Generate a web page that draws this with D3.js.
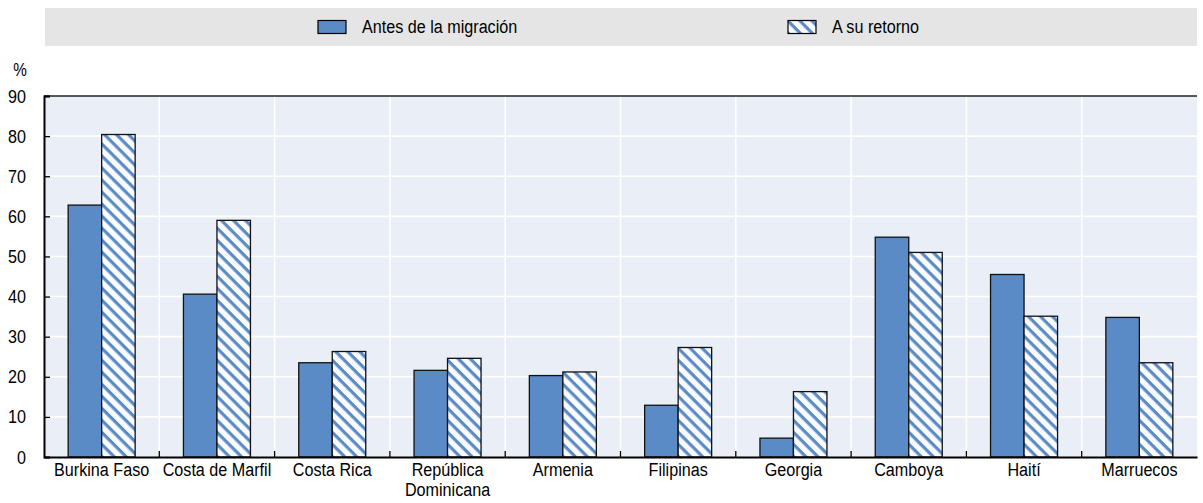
<!DOCTYPE html>
<html>
<head>
<meta charset="utf-8">
<script src="https://cdn.jsdelivr.net/npm/d3@7"></script>
<style>
  body { margin: 0; background: #fff; }
  text { font-family: "Liberation Sans", Arial, sans-serif; fill: #000; }
</style>
</head>
<body>
<script>
var categories = ["Burkina Faso", "Costa de Marfil", "Costa Rica", "República Dominicana", "Armenia",
                  "Filipinas", "Georgia", "Camboya", "Haití", "Marruecos"];
var antes = [62.8, 40.6, 23.5, 21.6, 20.3, 12.9, 4.7, 54.8, 45.5, 34.8];
var retorno = [80.4, 59.0, 26.3, 24.6, 21.2, 27.3, 16.3, 51.0, 35.1, 23.5];
var seriesNames = ["Antes de la migración", "A su retorno"];
var yTicks = [0, 10, 20, 30, 40, 50, 60, 70, 80, 90];

var width = 1203, height = 503;
var margin = {top: 96, right: 6, bottom: 46, left: 44};
var plotW = width - margin.left - margin.right;
var plotH = height - margin.top - margin.bottom;
var blue = "#5b8bc7";
var fontSize = "19px";
var squeeze = 0.85;   // narrow the glyphs a bit, the original font is condensed

var svg = d3.select("body").append("svg")
    .attr("width", width)
    .attr("height", height);

// hatch pattern
var defs = svg.append("defs");
var pat = defs.append("pattern")
    .attr("id", "hatch")
    .attr("patternUnits", "userSpaceOnUse")
    .attr("width", 8.5).attr("height", 8.5)
    .attr("patternTransform", "rotate(45)");
pat.append("rect").attr("width", 8.5).attr("height", 8.5).attr("fill", "#fbfcff");
pat.append("rect").attr("y", 0).attr("width", 8.5).attr("height", 3.2).attr("fill", blue);

// legend band
var legend = svg.append("g");
legend.append("rect")
    .attr("x", 45).attr("y", 8)
    .attr("width", 1152).attr("height", 38)
    .attr("fill", "#e5e5e5");
var legendX = [318, 788];
seriesNames.forEach(function(name, i) {
  legend.append("rect")
    .attr("x", legendX[i]).attr("y", 20.5)
    .attr("width", 28).attr("height", 13)
    .attr("fill", i == 0 ? blue : "url(#hatch)")
    .attr("stroke", "#000").attr("stroke-width", 1.2);
  legend.append("g")
    .attr("transform", "translate(" + (legendX[i] + 44) + ",33)")
    .append("text")
    .attr("transform", "scale(" + squeeze + ",1)")
    .style("font-size", fontSize)
    .text(name);
});

var g = svg.append("g")
    .attr("transform", "translate(" + margin.left + "," + margin.top + ")");

var x0 = d3.scaleBand()
    .domain(categories)
    .range([0, plotW]);

var x1 = d3.scaleBand()
    .domain([0, 1])
    .range([0, 67])
    .paddingInner(0);

var y = d3.scaleLinear()
    .domain([0, 90])
    .range([plotH, 0]);

// background
g.append("rect")
    .attr("width", plotW).attr("height", plotH)
    .attr("fill", "#e9eef7");

// gridlines
g.selectAll(".hgrid")
  .data(yTicks.filter(function(d) { return d > 0 && d < 90; }))
  .enter().append("line")
    .attr("x1", 0).attr("x2", plotW)
    .attr("y1", function(d) { return y(d); })
    .attr("y2", function(d) { return y(d); })
    .attr("stroke", "#fff").attr("stroke-width", 1.6);

g.selectAll(".vgrid")
  .data(categories.slice(1))
  .enter().append("line")
    .attr("x1", function(d) { return x0(d); })
    .attr("x2", function(d) { return x0(d); })
    .attr("y1", 0).attr("y2", plotH)
    .attr("stroke", "#fff").attr("stroke-width", 1.6);

// top line
g.append("line")
    .attr("x1", 0).attr("x2", plotW)
    .attr("y1", y(90)).attr("y2", y(90))
    .attr("stroke", "#222").attr("stroke-width", 1.5);

// bars
var groups = g.selectAll(".grp")
  .data(categories)
  .enter().append("g")
    .attr("transform", function(d) {
      return "translate(" + (x0(d) + (x0.bandwidth() - 67) / 2) + ",0)"; });

groups.selectAll("rect")
  .data(function(d, i) { return [antes[i], retorno[i]]; })
  .enter().append("rect")
    .attr("x", function(d, j) { return x1(j); })
    .attr("y", function(d) { return y(d); })
    .attr("width", x1.bandwidth())
    .attr("height", function(d) { return plotH - y(d); })
    .attr("fill", function(d, j) { return j == 0 ? blue : "url(#hatch)"; })
    .attr("stroke", "#111").attr("stroke-width", 1.3);

// y axis
var yAxis = g.append("g")
    .call(d3.axisLeft(y).tickValues(yTicks).tickSize(-6));
yAxis.select(".domain").attr("stroke", "#000").attr("stroke-width", 2);
yAxis.selectAll(".tick line").attr("stroke", "#000").attr("stroke-width", 1.3);
yAxis.selectAll(".tick text")
    .style("font-size", fontSize)
    .attr("x", -18 / squeeze)
    .attr("transform", "scale(" + squeeze + ",1)");

// x axis
var xAxis = g.append("g")
    .attr("transform", "translate(0," + plotH + ")")
    .call(d3.axisBottom(x0).tickSize(0).tickPadding(6));
xAxis.select(".domain").attr("stroke", "#000").attr("stroke-width", 2);
xAxis.selectAll(".tick text")
    .style("font-size", fontSize)
    .attr("transform", "scale(" + squeeze + ",1)");

// x ticks at category boundaries, pointing inward
g.selectAll(".xtick")
  .data(categories.slice(1))
  .enter().append("line")
    .attr("x1", function(d) { return x0(d); })
    .attr("x2", function(d) { return x0(d); })
    .attr("y1", plotH).attr("y2", plotH - 6)
    .attr("stroke", "#000").attr("stroke-width", 1.3);

// wrap long label onto two lines
xAxis.selectAll(".tick").each(function(d) {
  if (d == "República Dominicana") {
    var tick = d3.select(this);
    tick.select("text").text("República");
    tick.append("text")
      .attr("fill", "currentColor")
      .attr("y", 6 + 20)
      .attr("dy", "0.71em")
      .attr("transform", "scale(" + squeeze + ",1)")
      .style("font-size", fontSize)
      .text("Dominicana");
  }
});

// unit label
svg.append("g")
    .attr("transform", "translate(20,76)")
    .append("text")
    .attr("transform", "scale(" + squeeze + ",1)")
    .attr("text-anchor", "middle")
    .style("font-size", "18px")
    .text("%");
</script>
</body>
</html>
